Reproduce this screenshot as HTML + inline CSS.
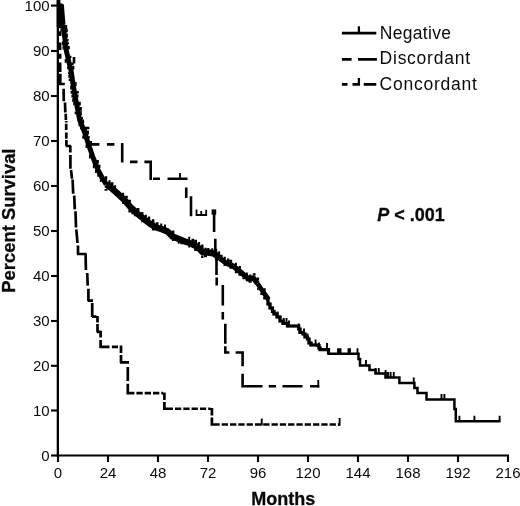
<!DOCTYPE html><html><head><meta charset="utf-8"><style>html,body{margin:0;padding:0;background:#fff}body{width:520px;height:506px;overflow:hidden}svg{display:block}text{font-family:"Liberation Sans",sans-serif;fill:#0a0a0a}</style></head><body>
<svg width="520" height="506" viewBox="0 0 520 506" style="filter:grayscale(1)">
<rect width="520" height="506" fill="#fff"/>
<g stroke="#000" stroke-width="2.1" fill="none" stroke-linecap="butt">
<path d="M57.85,0 V456.5" stroke-width="2.3"/>
<path d="M56.7,455.5 H509"/>
<path d="M51,455.5 H58"/>
<path d="M51,410.5 H58"/>
<path d="M51,365.8 H58"/>
<path d="M51,321.0 H58"/>
<path d="M51,276.0 H58"/>
<path d="M51,231.0 H58"/>
<path d="M51,186.0 H58"/>
<path d="M51,141.0 H58"/>
<path d="M51,96.0 H58"/>
<path d="M51,51.0 H58"/>
<path d="M51,5.6 H58"/>
<path d="M58.0,455 V462"/>
<path d="M108.0,455 V462"/>
<path d="M158.0,455 V462"/>
<path d="M208.0,455 V462"/>
<path d="M258.0,455 V462"/>
<path d="M308.0,455 V462"/>
<path d="M358.0,455 V462"/>
<path d="M408.0,455 V462"/>
<path d="M458.0,455 V462"/>
<path d="M508.0,455 V462"/>
</g>
<g font-size="15" text-anchor="end">
<text x="49.6" y="460.9">0</text>
<text x="49.6" y="415.9">10</text>
<text x="49.6" y="371.2">20</text>
<text x="49.6" y="326.4">30</text>
<text x="49.6" y="281.4">40</text>
<text x="49.6" y="236.4">50</text>
<text x="49.6" y="191.4">60</text>
<text x="49.6" y="146.4">70</text>
<text x="49.6" y="101.4">80</text>
<text x="49.6" y="56.4">90</text>
<text x="49.6" y="11.0">100</text>
</g>
<g font-size="15" text-anchor="middle">
<text x="58.0" y="478">0</text>
<text x="108.0" y="478">24</text>
<text x="158.0" y="478">48</text>
<text x="208.0" y="478">72</text>
<text x="258.0" y="478">96</text>
<text x="308.0" y="478">120</text>
<text x="358.0" y="478">144</text>
<text x="408.0" y="478">168</text>
<text x="458.0" y="478">192</text>
<text x="508.0" y="478">216</text>
</g>
<text x="283.2" y="505.4" font-size="18" font-weight="bold" text-anchor="middle" stroke="#0a0a0a" stroke-width="0.3">Months</text>
<text transform="translate(15.3,220.6) rotate(-90)" font-size="18.4" font-weight="bold" text-anchor="middle" stroke="#0a0a0a" stroke-width="0.3">Percent Survival</text>
<text x="377.3" y="221.4" font-size="18" font-weight="bold" stroke="#0a0a0a" stroke-width="0.3"><tspan font-style="italic">P</tspan> &lt; .001</text>
<g font-size="17.5">
<text x="379.8" y="39" textLength="71.2" lengthAdjust="spacing">Negative</text><text x="379.6" y="64.1" textLength="90.4" lengthAdjust="spacing">Discordant</text><text x="379.6" y="89.5" textLength="97.3" lengthAdjust="spacing">Concordant</text>
</g>
<g stroke="#000" stroke-width="2.8" fill="none">
<path d="M341.9,33.2 H376.3"/><path d="M358.9,26.3 V33" stroke-width="2.3"/>
<path d="M341.9,59.4 H351.6 M358,59.4 H376.9"/>
<path d="M341.9,84.3 H347.5 M352.5,84.3 H360 M363.75,84.3 H376.3"/><path d="M358.9,78 V85" stroke-width="2.3"/>
</g>
<path d="M60.00,5.00 L60.00,28.00 M60.00,31.25 L60.00,36.00 M60.00,42.50 L60.10,50.00 M60.10,53.75 L60.10,58.75 M60.10,62.50 L60.20,72.00 M60.30,73.75 V84.50 M59.00,84.00 H64.80 M63.60,88.75 L63.80,101.25 M65.00,102.50 L65.30,112.50 M65.70,113.75 L65.90,120.00 M66.20,121.00 V122.50 M66.20,123.75 V130.00 M66.30,132.50 V138.75 M66.40,140.00 V146.25 M66.00,146.00 H71.00 M70.30,145.60 V152.50 M70.40,155.00 V168.75 M71.00,170.00 L72.00,178.75 M72.60,179.50 L73.20,193.75 M74.20,195.60 L74.80,209.40 M75.50,211.25 L76.00,227.50 M76.30,229.40 L77.50,243.00 M78.00,245.60 V254.60 M77.00,254.00 H86.60 M85.60,254.00 L85.90,270.00 M87.20,273.00 L87.70,285.60 M88.40,288.75 V301.25 M88.00,300.60 H93.00 M92.20,303.00 V317.00 M92.00,316.60 H96.50 M97.50,316.00 V322.50 M97.50,324.00 V332.50 M97.00,331.80 H101.30 M100.60,331.00 V337.50 M100.60,340.00 V348.00 M99.40,346.90 H109.40 M111.90,346.90 H118.00 M121.00,345.60 V353.00 M121.00,355.00 V363.00 M120.00,362.30 H129.00 M127.80,367.00 V381.00 M127.80,383.75 V394.40 M127.00,393.10 H134.40 M136.40,393.10 H142.70 M144.70,393.10 H151.00 M153.00,393.10 H159.30 M161.30,393.10 H163.00 M164.40,392.50 V400.00 M164.40,402.00 V410.00 M163.00,408.75 H173.00 M175.00,408.75 H181.30 M183.30,408.75 H189.60 M191.60,408.75 H197.90 M199.90,408.75 H206.20 M208.20,408.75 H210.50 M211.90,408.00 V415.60 M211.90,417.50 V425.70 M210.70,424.50 H219.70 M221.70,424.50 H228.00 M230.00,424.50 H236.30 M238.30,424.50 H244.60 M246.60,424.50 H252.90 M254.90,424.50 H261.20 M263.20,424.50 H269.50 M271.50,424.50 H277.80 M279.80,424.50 H286.10 M288.10,424.50 H294.40 M296.40,424.50 H302.70 M304.70,424.50 H311.00 M313.00,424.50 H319.30 M321.30,424.50 H327.60 M329.60,424.50 H335.90 M337.90,424.50 H340.00" stroke="#000" stroke-width="2.7" fill="none"/>
<path d="M261.75,418.5 V425.5 M339.6,418 V425.7" stroke="#000" stroke-width="1.9" fill="none"/>
<path d="M74.00,57.00 V63.50 M80.00,128.00 H89.40 M90.00,144.40 H99.40 M106.90,144.40 H114.40 M122.20,143.00 V162.60 M130.00,161.90 H137.50 M144.40,161.90 H151.90 M150.70,160.60 V180.00 M153.00,178.75 H160.00 M167.50,178.75 H187.50 M186.25,187.50 V198.00 M191.00,196.25 V216.25 M214.10,210.00 V232.00 M215.30,238.75 V252.00 M216.50,258.75 V275.00 M216.70,277.50 V285.60 M222.80,285.00 V305.60 M222.80,312.00 V319.40 M225.30,323.75 V343.75 M225.30,346.25 V353.75 M224.00,352.50 H229.40 M235.60,352.50 H243.90 M242.60,351.25 V366.25 M242.60,373.75 V387.60 M241.30,386.30 H262.50 M268.75,386.30 H276.00 M282.50,386.30 H302.50 M310.00,386.30 H319.30" stroke="#000" stroke-width="2.6" fill="none"/>
<path d="M180.00,173.00 V178.50 M196.50,209.40 V215.80 M201.25,211.00 V215.80 M206.20,209.80 V215.80 M318.30,380.00 V387.60 M195.6,215 H207.1" stroke="#000" stroke-width="1.8" fill="none"/>
<rect x="211.6" y="209.4" width="4.6" height="5.4" fill="#000"/>
<g stroke="#000" fill="none" stroke-linejoin="round" stroke-linecap="butt">
<path d="M58.00,5.50 L61.50,6.00 L63.00,25.00 L64.80,38.00 L66.20,50.00 L68.90,62.00 L70.90,70.00 L73.20,85.00 L75.30,97.50 L77.80,110.00 L79.70,120.00 L84.70,132.50 L88.75,145.00 L93.00,157.50 L98.00,170.00 L102.50,178.50 L106.25,184.40" stroke-width="5.0"/>
<path d="M106.25,184.40 L112.50,189.00 L118.75,194.70 L125.00,200.60 L131.25,208.00 L137.50,213.75 L143.75,218.75 L150.00,223.75 L156.25,227.50 L162.50,229.40 L167.50,231.50 L172.50,236.50 L180.00,239.50 L185.00,241.50 L191.00,243.50 L195.00,245.60 L197.50,246.80 L202.50,252.00 L210.00,252.80 L214.00,253.50 L220.00,258.50" stroke-width="6.5"/>
<path d="M220.00,258.50 L226.00,263.00 L232.50,265.70 L238.75,270.60 L245.00,275.80 L249.00,279.00 L252.00,278.00 L254.00,278.80 L257.50,283.50" stroke-width="5.3"/>
<path d="M257.50,283.50 L262.50,291.00 L266.00,296.00 L268.50,299.50" stroke-width="4.8"/>
<path d="M267.00,298.50 H268.00 V304.00 H270.00 V308.00 H272.50 V311.50 H274.00 V314.00 H277.00 V317.00 H280.00 V321.00 H283.00 V323.50 H287.50 V326.00 H297.50 V326.00 H298.75 V329.00 H300.00 V332.50 H303.00 V334.00 H305.00 V337.00 H307.50 V339.00 H309.00 V343.00 H311.00 V345.00 H317.50 V345.50 H319.00 V348.00 H320.00 V349.60 H327.50 V349.60 H328.50 V353.75 H357.50 V353.75 H358.50 V359.00 H360.00 V365.60 H369.00 V365.60 H369.50 V370.00 H375.00 V370.00 H375.50 V373.60 H385.60 V373.60 H385.60 V377.60 H399.40 V377.60 H399.40 V383.00 H414.40 V383.00 H414.40 V388.00 H417.50 V388.00 H417.50 V393.00 H426.25 V393.00 H426.50 V399.60 H454.20 V399.60 H454.40 V409.00 H455.80 V409.00 H455.80 V421.30 H500.40 V421.30" stroke-width="2.5" stroke-linejoin="miter"/>
<path d="M267.00,298.50 H268.00 V304.00 H270.00 V308.00 H272.50 V311.50 H274.00 V314.00 H277.00 V317.00 H280.00 V321.00 H283.00 V323.50 H287.50 V326.00 H297.50 V326.00 H298.75 V329.00 H300.00 V332.50 H303.00 V334.00 H305.00 V337.00 H307.50 V339.00 H309.00 V343.00 H311.00 V345.00 H317.50 V345.50 H319.00 V348.00 H320.00 V349.60 H327.50 V349.60 H328.50 V353.75" stroke-width="3.2" stroke-linejoin="miter"/>
<path d="M277.50,311.40 V317.50 M283.75,317.90 V324.00 M286.50,317.90 V324.00 M289.00,320.40 V326.50 M298.75,323.40 V329.50 M304.00,328.40 V334.50 M307.50,333.40 V339.50 M315.60,339.40 V345.50 M319.00,342.40 V348.50 M327.00,343.10 V350.10 M338.00,348.15 V354.25 M339.50,348.15 V354.25 M340.50,348.15 V354.25 M348.50,348.15 V354.25 M350.00,348.15 V354.25 M357.50,348.15 V354.25 M366.00,360.00 V366.10 M375.60,368.00 V374.10 M378.75,368.00 V374.10 M385.60,370.10 V378.10 M388.00,372.00 V378.10 M390.60,372.00 V378.10 M393.75,372.00 V378.10 M413.75,377.40 V383.50 M441.50,394.00 V400.10 M444.40,394.00 V400.10 M459.40,415.70 V421.80 M474.40,415.70 V421.80 M499.60,415.70 V421.80" stroke-width="1.9"/>
</g>
<path fill="#000" d="M65.35,25.08h1.86v3.85h-1.86z M59.70,25.41h1.51v3.17h-1.51z M65.83,28.67h1.93v3.59h-1.93z M60.34,29.37h1.34v2.18h-1.34z M66.53,33.50h1.34v3.96h-1.34z M67.12,39.11h1.46v2.03h-1.46z M67.49,42.24h1.54v2.06h-1.54z M61.89,41.43h1.45v3.68h-1.45z M67.99,45.90h1.80v3.32h-1.80z M62.52,45.57h1.32v4.00h-1.32z M69.82,55.77h1.59v2.14h-1.59z M64.70,59.00h1.87v3.69h-1.87z M71.44,62.38h2.21v2.94h-2.21z M72.44,66.06h1.93v3.56h-1.93z M67.12,66.51h1.17v2.67h-1.17z M68.03,72.15h1.30v2.20h-1.30z M68.26,74.95h1.55v2.89h-1.55z M68.72,78.76h1.61v2.23h-1.61z M75.11,81.96h1.57v3.94h-1.57z M70.16,85.84h1.42v3.71h-1.42z M76.50,91.08h2.29v2.43h-2.29z M70.63,90.97h1.72v2.66h-1.72z M77.13,94.45h1.39v3.17h-1.39z M71.40,94.66h1.58v2.74h-1.58z M72.20,98.30h1.56v3.73h-1.56z M78.60,101.81h2.21v3.64h-2.21z M73.20,101.89h1.25v3.48h-1.25z M79.67,107.09h2.25v3.76h-2.25z M80.45,111.07h1.34v3.93h-1.34z M74.64,111.77h1.66v2.51h-1.66z M81.41,116.91h1.59v2.35h-1.59z M82.28,119.41h1.86v3.70h-1.86z M78.50,123.69h1.11v2.54h-1.11z M85.41,127.71h1.48v2.74h-1.48z M86.74,130.42h2.19v3.96h-2.19z M88.28,136.10h1.44v2.07h-1.44z M82.30,135.43h1.83v3.40h-1.83z M90.03,141.06h1.94v2.96h-1.94z M85.59,144.60h1.54v3.47h-1.54z M88.96,154.67h1.65v3.80h-1.65z M96.77,159.88h2.09v3.73h-2.09z M98.60,164.70h1.88v3.22h-1.88z M92.84,164.32h1.61v3.99h-1.61z M95.04,169.93h1.69v3.16h-1.69z M97.20,174.58h1.70v2.06h-1.70z M105.60,178.42h1.53v3.40h-1.53z M99.86,178.19h1.59v3.84h-1.59z M104.76,176.27h2.48v2.68h-2.48z M104.57,189.07h2.86v1.77h-2.86z M108.46,180.14h2.13v3.63h-2.13z M110.76,182.19h2.71v3.49h-2.71z M114.12,185.25h1.94v2.71h-1.94z M121.93,192.83h2.25v2.47h-2.25z M122.00,202.24h2.12v1.81h-2.12z M125.19,195.65h2.64v2.70h-2.64z M128.28,199.78h2.67v2.25h-2.67z M128.44,210.10h2.36v2.31h-2.36z M131.34,212.51h2.18v1.74h-2.18z M133.90,214.58h1.57v1.74h-1.57z M136.91,207.89h2.46v3.21h-2.46z M141.12,211.88h2.28v2.52h-2.28z M141.16,220.72h2.21v1.61h-2.21z M144.81,214.66h2.15v2.64h-2.15z M148.03,216.48h2.19v3.41h-2.19z M151.88,219.15h2.52v3.69h-2.52z M151.92,228.42h2.44v2.05h-2.44z M155.82,222.27h2.68v3.11h-2.68z M160.25,223.38h2.00v3.24h-2.00z M164.08,224.61h2.01v3.35h-2.01z M171.70,230.56h2.66v3.66h-2.66z M171.95,239.21h2.16v1.68h-2.16z M177.71,241.43h1.76v2.40h-1.76z M180.32,242.58h2.27v1.75h-2.27z M188.25,236.75h1.89v3.72h-1.89z M188.23,245.32h1.94v2.13h-1.94z M191.53,238.77h2.64v3.04h-2.64z M194.33,239.77h2.70v3.55h-2.70z M194.20,248.53h2.95v2.45h-2.95z M197.76,242.07h2.34v2.52h-2.34z M201.18,244.39h2.32v3.75h-2.32z M201.16,255.52h2.34v2.40h-2.34z M204.35,247.75h2.34v2.31h-2.34z M204.07,254.59h2.89v2.56h-2.89z M207.14,247.94h2.23v2.40h-2.23z M211.26,248.19h1.99v2.71h-1.99z M215.40,248.74h1.82v3.45h-1.82z M215.04,258.65h2.53v1.83h-2.53z M218.20,251.37h1.90v3.19h-1.90z M220.60,254.78h2.00v2.60h-2.00z M223.51,256.83h2.33v2.86h-2.33z M223.45,264.32h2.45v1.80h-2.45z M226.94,258.46h2.41v3.56h-2.41z M229.46,259.63h2.70v3.50h-2.70z M229.37,266.87h2.88v1.91h-2.88z M234.89,262.65h2.06v3.36h-2.06z M234.85,270.75h2.13v2.43h-2.13z M238.45,266.10h2.49v2.84h-2.49z M238.43,273.83h2.52v1.80h-2.52z M242.40,277.18h2.64v2.11h-2.64z M245.99,272.44h1.87v2.50h-1.87z M245.76,279.73h2.33v1.64h-2.33z M249.16,274.39h1.98v2.43h-1.98z M248.66,280.41h2.99v2.44h-2.99z M252.83,273.34h2.75v2.30h-2.75z M256.78,277.43h2.32v2.95h-2.32z M257.18,287.93h1.52v2.20h-1.52z M260.24,292.89h2.61v2.05h-2.61z M263.39,288.28h2.31v2.46h-2.31z M263.20,297.11h2.70v2.49h-2.70z"/>
<path d="M56.7,0 H60.4 V4.4 H63.9 V26 L62,27 L56.7,27 Z" fill="#000"/>
</svg></body></html>
